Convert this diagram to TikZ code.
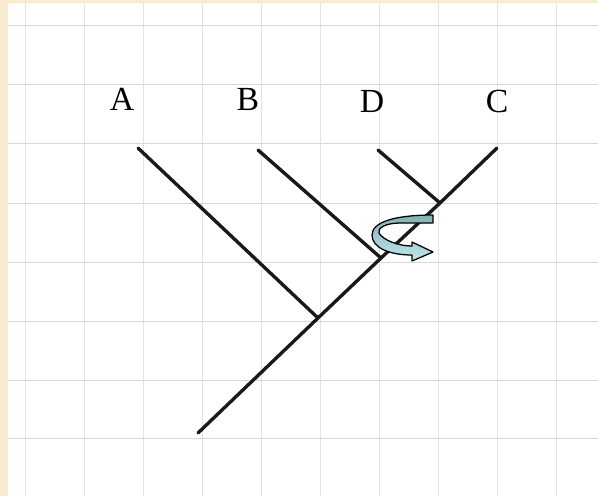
\documentclass[tikz,border=0pt]{standalone}
\usepackage{fontspec}
\setmainfont{Liberation Serif}
\usepackage{xcolor}

\definecolor{paperedge}{RGB}{249,236,206}
\definecolor{gridline}{RGB}{215,215,215}
\definecolor{turnback}{RGB}{132,176,178}
\definecolor{turnfront}{RGB}{192,232,238}

\tikzset{
    branch/.style={line width=2.4pt, line cap=round, black!90},
    taxon/.style={font=\fontsize{24}{26}\selectfont},
    gridrule/.style={gridline, line width=0.6pt},
    turnarrow/.style={draw=black, line width=0.9pt, line join=round,
        top color=turnback, bottom color=turnfront}
}

\begin{document}
\begin{tikzpicture}[x=0.025cm, y=-0.025cm]
    \useasboundingbox (0,0) rectangle (598,496);
    \fill[paperedge] (0,0) rectangle (598,496);
    \fill[white] (8,3) rectangle (598,496);

    \foreach \gx in {25,84,143,202,261,320,379,438,497,556}
        \draw[gridrule, gridline!70] (\gx,3) -- (\gx,496);
    \foreach \gy in {25,84,143,203,262,321,380,438}
        \draw[gridrule] (8,\gy) -- (598,\gy);

    \coordinate (root) at (198,433);
    \coordinate (nA) at (318,318);
    \coordinate (nB) at (381,258);
    \coordinate (nDC) at (440,203);
    \coordinate (tA) at (138,148);
    \coordinate (tB) at (258,150);
    \coordinate (tD) at (378,150);
    \coordinate (tC) at (497,148);

    \node[taxon] (labA) at (122,99) {A};
    \node[taxon] (labB) at (248,99) {B};
    \node[taxon] (labD) at (372,101) {D};
    \node[taxon] (labC) at (497,101) {C};

    \draw[branch] (root) -- (nA) -- (nB) -- (nDC) -- (tC);
    \draw[branch] (tA) -- (nA);
    \draw[branch] (tB) -- (nB);
    \draw[branch] (tD) -- (nDC);

    \draw[turnarrow] (433,215) -- (433,223) -- (400,223)
        .. controls (386,223) and (377,228) .. (379,233)
        .. controls (383,240) and (398,246) .. (412,246)
        -- (412,242) -- (433,252) -- (412,261) -- (412,255)
        .. controls (390,255) and (372,248) .. (372,235)
        .. controls (372,222) and (395,215) .. (433,215) -- cycle;
\end{tikzpicture}
\end{document}
